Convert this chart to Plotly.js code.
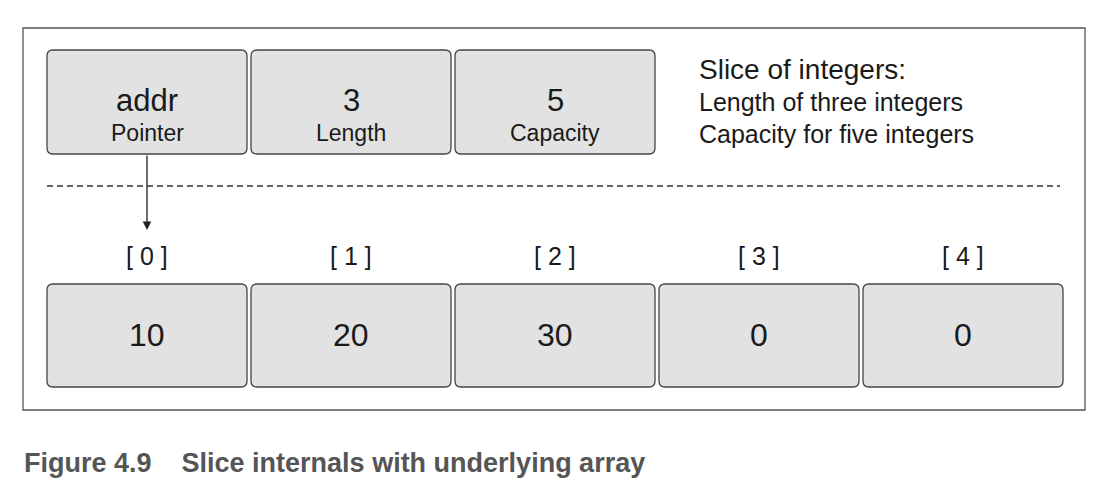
<!DOCTYPE html>
<html>
<head>
<script src="https://cdn.plot.ly/plotly-3.0.1.min.js"></script>
<style>body{margin:0;background:#fff}</style>
</head>
<body>
<div id="chart" style="width:1114px;height:488px"></div>
<script>
// slice header fields
var headerValues = ['addr', '3', '5'];
var headerNames = ['Pointer', 'Length', 'Capacity'];
// underlying array
var arrayIndex = ['[ 0 ]', '[ 1 ]', '[ 2 ]', '[ 3 ]', '[ 4 ]'];
var arrayValues = ['10', '20', '30', '0', '0'];
var notes = ['Slice of integers:', 'Length of three integers', 'Capacity for five integers'];

var cellW = 204, boxW = 200, left = 47;
var fill = '#e2e2e2', edge = '#444';
var shapes = [], annotations = [];

function box(i, y0, y1) {
  var x0 = left + i * cellW, x1 = x0 + boxW, r = 6;
  var p = 'M' + (x0 + r) + ',' + y0 + ' L' + (x1 - r) + ',' + y0 + ' Q' + x1 + ',' + y0 + ' ' + x1 + ',' + (y0 + r) +
    ' L' + x1 + ',' + (y1 - r) + ' Q' + x1 + ',' + y1 + ' ' + (x1 - r) + ',' + y1 +
    ' L' + (x0 + r) + ',' + y1 + ' Q' + x0 + ',' + y1 + ' ' + x0 + ',' + (y1 - r) +
    ' L' + x0 + ',' + (y0 + r) + ' Q' + x0 + ',' + y0 + ' ' + (x0 + r) + ',' + y0 + ' Z';
  shapes.push({type: 'path', path: p, fillcolor: fill, line: {color: edge, width: 1.3}});
  return x0 + boxW / 2;
}
function txt(x, y, t, size, anchor, extra) {
  var a = {x: x, y: y, text: t, showarrow: false, xanchor: anchor || 'center', yanchor: 'middle',
    font: {family: 'Liberation Sans, Arial', size: size, color: '#1a1a1a'}};
  for (var k in extra) a[k] = extra[k];
  annotations.push(a);
}

// outer frame
shapes.push({type: 'rect', x0: 23, x1: 1085, y0: 28, y1: 410, line: {color: '#555', width: 1.3}});

headerValues.forEach(function (v, i) {
  var cx = box(i, 50, 154);
  txt(cx, 100, v, 31);
  txt(cx, 133, headerNames[i], 23);
});
notes.forEach(function (n, i) {
  txt(697, i === 0 ? 69 : 70 + i * 32, n, i === 0 ? 28 : 25, 'left');
});

// dashed separator
shapes.push({type: 'line', x0: 47, x1: 1060, y0: 186, y1: 186, line: {color: '#333', width: 1.3, dash: '6px,4px'}});

arrayValues.forEach(function (v, i) {
  var cx = box(i, 284, 387);
  txt(cx, 335, v, 32);
  txt(cx, 256, arrayIndex[i], 25);
});

// pointer arrow
annotations.push({x: 147, y: 230, ax: 147, ay: 154, axref: 'x', ayref: 'y', xref: 'x', yref: 'y',
  showarrow: true, arrowhead: 2, arrowsize: 1.3, arrowwidth: 1.3, arrowcolor: '#222', text: ''});

// caption
txt(22, 463, '<b>Figure 4.9    Slice internals with underlying array</b>', 27, 'left',
  {font: {family: 'Liberation Sans, Arial', size: 27, color: '#555'}});

Plotly.newPlot('chart', [], {
  width: 1114, height: 488,
  margin: {l: 0, r: 0, t: 0, b: 0},
  paper_bgcolor: '#fff', plot_bgcolor: '#fff',
  xaxis: {range: [0, 1114], visible: false, fixedrange: true},
  yaxis: {range: [488, 0], visible: false, fixedrange: true},
  shapes: shapes, annotations: annotations, showlegend: false
}, {displayModeBar: false, staticPlot: true});
</script>
</body>
</html>
